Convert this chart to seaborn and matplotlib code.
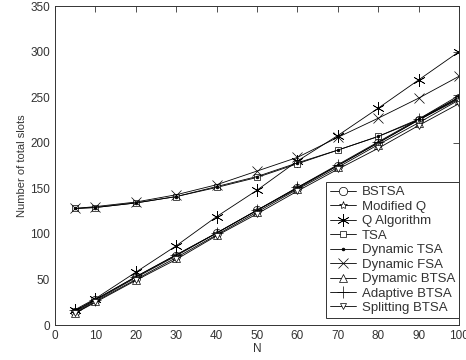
import matplotlib
matplotlib.use('Agg')
import matplotlib.pyplot as plt
import seaborn as sns
import pandas as pd

sns.set_style('white')
plt.rcParams['font.family'] = ['Liberation Sans', 'DejaVu Sans']

# number of tags
N = [5, 10, 20, 30, 40, 50, 60, 70, 80, 90, 100]

# total slots per algorithm
bstsa = [14, 27, 52, 76, 101, 126, 150, 175, 200, 225, 249]
modified_q = [15, 28, 53, 77, 101, 126, 151, 175, 200, 225, 250]
q_algorithm = [17, 29, 58, 87, 119, 148, 180, 208, 238, 269, 300]
tsa = [128, 129, 134, 141, 151, 162, 177, 192, 207, 225, 248]
dynamic_tsa = [128, 129, 134, 141, 152, 163, 178, 192, 207, 226, 250]
dynamic_fsa = [128, 130, 135, 143, 154, 169, 184, 206, 227, 249, 273]
dynamic_btsa = [13, 26, 50, 74, 99, 124, 149, 173, 198, 222, 247]
adaptive_btsa = [16, 28, 53, 77, 101, 126, 151, 176, 201, 226, 252]
splitting_btsa = [13, 25, 49, 72, 98, 122, 147, 171, 194, 219, 243]

series = [
    ('BSTSA', bstsa, 'o', 'white', 6),
    ('Modified Q', modified_q, '*', 'white', 6),
    ('Q Algorithm', q_algorithm, (6, 2, 0), 'none', 9),
    ('TSA', tsa, 's', 'white', 5),
    ('Dynamic TSA', dynamic_tsa, '.', 'black', 4),
    ('Dynamic FSA', dynamic_fsa, 'x', 'none', 7),
    ('Dymamic BTSA', dynamic_btsa, '^', 'white', 6),
    ('Adaptive BTSA', adaptive_btsa, '+', 'none', 8),
    ('Splitting BTSA', splitting_btsa, 'v', 'white', 5),
]

fig = plt.figure(figsize=(4.66, 3.6), dpi=100)
ax = fig.add_axes([0.118, 0.097, 0.867, 0.886])

for name, vals, mk, fc, ms in series:
    df = pd.DataFrame({'N': N, 'slots': vals})
    sns.lineplot(data=df, x='N', y='slots', ax=ax, color='black', lw=0.6,
                 marker=mk, markersize=ms, markerfacecolor=fc,
                 markeredgecolor='black', markeredgewidth=0.5, label=name)

ax.set_xlim(0, 100)
ax.set_ylim(0, 350)
ax.set_xticks(range(0, 101, 10))
ax.set_yticks(range(0, 351, 50))
ax.tick_params(direction='in', top=True, right=True, length=4, width=0.6,
               labelsize=8.5, labelcolor='#333333', color='#333333')
for lab in ax.get_xticklabels() + ax.get_yticklabels():
    lab.set_family('Liberation Sans')
for s in ax.spines.values():
    s.set_color('#333333')
    s.set_linewidth(0.7)
ax.set_xlabel('N', fontsize=8.5, color='#333333', labelpad=1, family='Liberation Sans')
ax.set_ylabel('Number of total slots', fontsize=8, color='#333333', labelpad=2,
              family='Liberation Sans')

leg = ax.legend(loc='lower right', bbox_to_anchor=(1, 0.022), borderaxespad=0,
                prop={'family': 'Liberation Sans', 'size': 9.5},
                labelspacing=0.17, handlelength=2.0, handletextpad=0.4,
                borderpad=0.3, fancybox=False, framealpha=1)
leg.get_frame().set_edgecolor('#333333')
leg.get_frame().set_linewidth(0.7)
for t in leg.get_texts():
    t.set_color('#333333')

fig.savefig('out.png', dpi=100)
